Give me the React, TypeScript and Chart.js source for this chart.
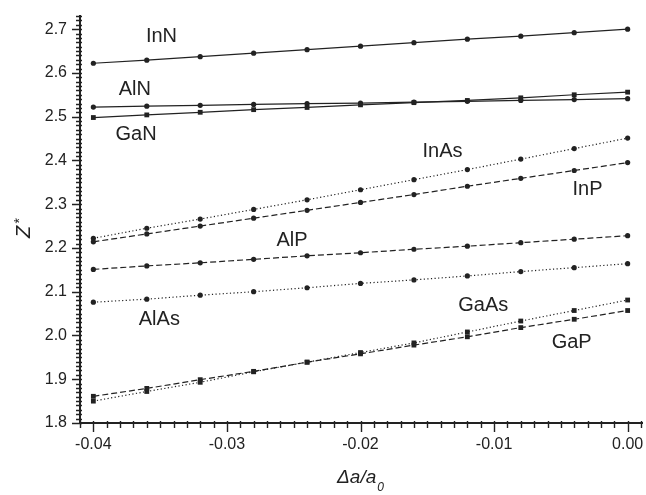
import React, { useEffect, useRef } from "react";
import { Chart, registerables } from "chart.js";

Chart.register(...registerables);

// ---- Data ----
const xValues = [-0.04, -0.036, -0.032, -0.028, -0.024, -0.02, -0.016, -0.012, -0.008, -0.004, 0.0];

const InN = [2.622, 2.629, 2.637, 2.645, 2.653, 2.661, 2.669, 2.677, 2.684, 2.692, 2.7];
const AlN = [2.522, 2.524, 2.526, 2.528, 2.53, 2.531, 2.533, 2.535, 2.537, 2.539, 2.541];
const GaN = [2.498, 2.504, 2.51, 2.516, 2.521, 2.527, 2.532, 2.537, 2.543, 2.55, 2.556];
const InAs = [2.222, 2.245, 2.266, 2.288, 2.31, 2.333, 2.356, 2.379, 2.403, 2.427, 2.451];
const InP = [2.214, 2.232, 2.25, 2.268, 2.286, 2.304, 2.322, 2.341, 2.359, 2.377, 2.395];
const AlP = [2.151, 2.159, 2.166, 2.174, 2.182, 2.189, 2.197, 2.204, 2.212, 2.22, 2.228];
const AlAs = [2.076, 2.083, 2.092, 2.1, 2.109, 2.119, 2.127, 2.136, 2.146, 2.155, 2.164];
const GaAs = [1.85, 1.872, 1.893, 1.917, 1.939, 1.961, 1.983, 2.008, 2.033, 2.057, 2.081];
const GaP = [1.861, 1.879, 1.899, 1.918, 1.939, 1.958, 1.978, 1.997, 2.018, 2.037, 2.057];

const xTicks = [-0.04, -0.03, -0.02, -0.01, 0.0];
const yTicks = [1.8, 1.9, 2.0, 2.1, 2.2, 2.3, 2.4, 2.5, 2.6, 2.7];

// label anchors in data units
const seriesLabels = [
  { text: "InN", x: -0.0349, y: 2.683 },
  { text: "AlN", x: -0.0369, y: 2.561 },
  { text: "GaN", x: -0.0368, y: 2.459 },
  { text: "InAs", x: -0.01386, y: 2.421 },
  { text: "InP", x: -0.003, y: 2.333 },
  { text: "AlP", x: -0.02513, y: 2.218 },
  { text: "AlAs", x: -0.03506, y: 2.0375 },
  { text: "GaAs", x: -0.01081, y: 2.068 },
  { text: "GaP", x: -0.00419, y: 1.984 },
];

const FONT = "'Liberation Sans', Arial, Helvetica, sans-serif";
const INK = "#222";

type Style = "solid" | "dotted" | "dashed";
const series: { name: string; values: number[]; style: Style; marker: "circle" | "rect" }[] = [
  { name: "InN", values: InN, style: "solid", marker: "circle" },
  { name: "AlN", values: AlN, style: "solid", marker: "circle" },
  { name: "GaN", values: GaN, style: "solid", marker: "rect" },
  { name: "InAs", values: InAs, style: "dotted", marker: "circle" },
  { name: "InP", values: InP, style: "dashed", marker: "circle" },
  { name: "AlP", values: AlP, style: "dashed", marker: "circle" },
  { name: "AlAs", values: AlAs, style: "dotted", marker: "circle" },
  { name: "GaAs", values: GaAs, style: "dotted", marker: "rect" },
  { name: "GaP", values: GaP, style: "dashed", marker: "rect" },
];

const dashFor = (s: Style) => (s === "dotted" ? [1.2, 2.4] : s === "dashed" ? [6, 3] : []);

const decorPlugin = {
  id: "decor",
  afterDraw(chart: any) {
    const ctx = chart.ctx as CanvasRenderingContext2D;
    const xs = chart.scales.x;
    const ys = chart.scales.y;
    const { left, right, top, bottom } = chart.chartArea;
    ctx.save();
    ctx.strokeStyle = INK;
    ctx.fillStyle = INK;

    // axis lines
    ctx.lineWidth = 2;
    ctx.beginPath();
    ctx.moveTo(left, top - 1);
    ctx.lineTo(left, bottom + 1);
    ctx.moveTo(left - 1, bottom);
    ctx.lineTo(right + 2, bottom);
    ctx.stroke();

    // ticks
    ctx.lineWidth = 1.4;
    ctx.beginPath();
    for (let i = 0; i <= 93; i++) {
      const v = 1.8 + i * 0.01;
      const y = Math.round(ys.getPixelForValue(v)) + 0.5;
      const major = i % 10 === 0;
      ctx.moveTo(left - (major ? 8 : 4), y);
      ctx.lineTo(left + 2, y);
    }
    for (let i = 0; i <= 42; i++) {
      const v = -0.041 + i * 0.001;
      const x = Math.round(xs.getPixelForValue(v)) + 0.5;
      const major = (i - 1) % 10 === 0;
      ctx.moveTo(x, bottom - 2);
      ctx.lineTo(x, bottom + (major ? 9 : 5));
    }
    ctx.stroke();

    // tick labels
    ctx.font = `16px ${FONT}`;
    ctx.textBaseline = "middle";
    ctx.textAlign = "right";
    for (const v of yTicks) {
      ctx.fillText(v.toFixed(1), left - 13, ys.getPixelForValue(v));
    }
    ctx.textAlign = "center";
    for (const v of xTicks) {
      ctx.fillText(v.toFixed(2), xs.getPixelForValue(v), bottom + 22);
    }

    // series labels
    ctx.font = `20px ${FONT}`;
    ctx.textAlign = "center";
    ctx.textBaseline = "middle";
    for (const l of seriesLabels) {
      ctx.fillText(l.text, xs.getPixelForValue(l.x), ys.getPixelForValue(l.y));
    }

    // y title Z*
    ctx.save();
    ctx.translate(22.5, 228);
    ctx.rotate(-Math.PI / 2);
    ctx.textAlign = "left";
    ctx.textBaseline = "alphabetic";
    ctx.font = `italic 20px ${FONT}`;
    ctx.fillText("Z", -10, 7.5);
    ctx.font = `14px ${FONT}`;
    ctx.fillText("*", 4.5, 1.5);
    ctx.restore();

    // x title Δa/a0
    ctx.textAlign = "left";
    ctx.textBaseline = "alphabetic";
    ctx.font = `italic 19px ${FONT}`;
    const main = "\u0394a/a";
    const wMain = ctx.measureText(main).width;
    ctx.font = `italic 12px ${FONT}`;
    const wSub = ctx.measureText("0").width;
    const cx = xs.getPixelForValue(-0.02);
    const startX = cx - (wMain + wSub + 1) / 2;
    ctx.font = `italic 19px ${FONT}`;
    ctx.fillText(main, startX, 483);
    ctx.font = `italic 12px ${FONT}`;
    ctx.fillText("0", startX + wMain + 1, 491);

    ctx.restore();
  },
};

export default function App() {
  const ref = useRef<HTMLCanvasElement | null>(null);

  useEffect(() => {
    if (!ref.current) return;
    const datasets = series.map((s) => ({
      label: s.name,
      data: xValues.map((x, i) => ({ x, y: s.values[i] })),
      borderColor: INK,
      backgroundColor: INK,
      borderWidth: 1.2,
      borderDash: dashFor(s.style),
      pointStyle: s.marker,
      pointRadius: s.marker === "rect" ? 3.4 : 2.6,
      pointBorderWidth: 0,
      pointBackgroundColor: INK,
      tension: 0,
      fill: false,
    }));

    const chart = new Chart(ref.current, {
      type: "line",
      data: { datasets },
      options: {
        responsive: false,
        animation: false,
        devicePixelRatio: 1,
        layout: { padding: { top: 16, right: 5, left: 0, bottom: 0 } },
        plugins: {
          legend: { display: false },
          tooltip: { enabled: false },
        },
        scales: {
          x: {
            type: "linear",
            min: -0.041,
            max: 0.001,
            grid: { display: false, drawTicks: false },
            border: { display: false },
            ticks: { display: false },
            afterFit: (s: any) => {
              s.height = 72;
            },
          },
          y: {
            type: "linear",
            min: 1.8,
            max: 2.73,
            grid: { display: false, drawTicks: false },
            border: { display: false },
            ticks: { display: false },
            afterFit: (s: any) => {
              s.width = 80;
            },
          },
        },
      },
      plugins: [decorPlugin],
    });
    return () => chart.destroy();
  }, []);

  return (
    <div style={{ position: "absolute", left: 0, top: 0, width: 646, height: 495, background: "#fff" }}>
      <canvas ref={ref} width={646} height={495} style={{ width: 646, height: 495, display: "block" }} />
    </div>
  );
}
